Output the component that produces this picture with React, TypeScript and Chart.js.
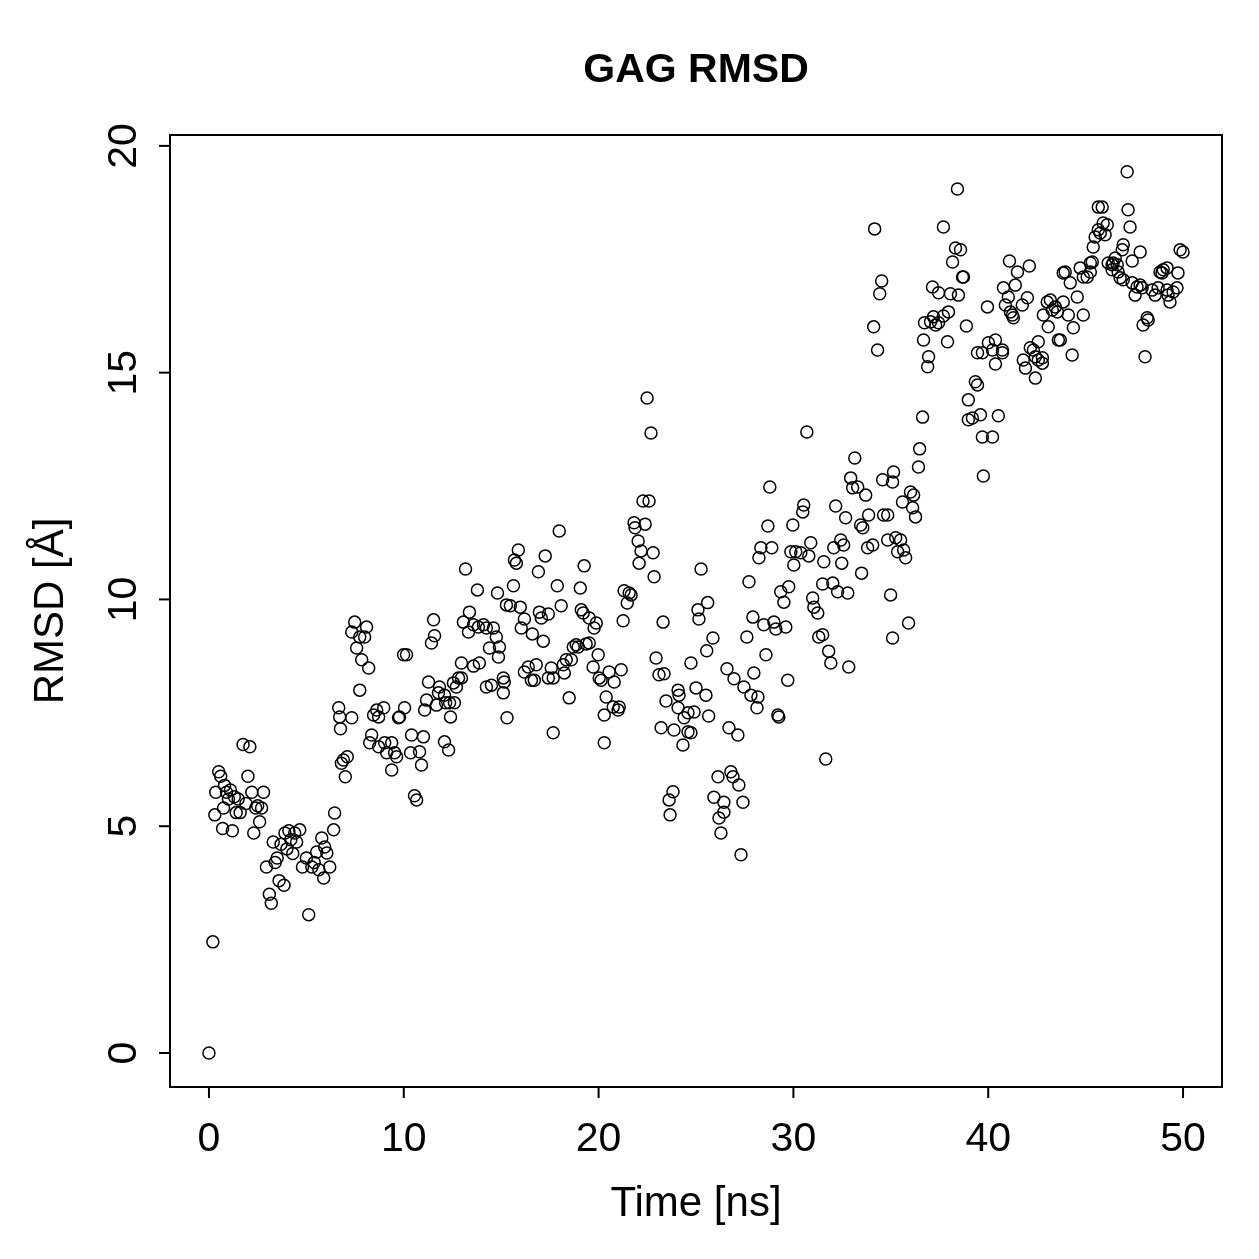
import React, { useEffect, useRef } from "react";
import { Chart, registerables } from "chart.js";

Chart.register(...registerables);

const TITLE = "GAG RMSD";
const X_TITLE = "Time [ns]";
const Y_TITLE = "RMSD [Å]";
const X_TICKS = [0, 10, 20, 30, 40, 50];
const Y_TICKS = [0, 5, 10, 15, 20];

const TIME = [
  0.0,0.2,0.3,0.35,0.5,0.6,0.7,0.75,0.8,0.9,
  1.0,1.1,1.2,1.3,1.4,1.5,1.6,1.75,1.9,2.0,
  2.1,2.2,2.3,2.4,2.5,2.6,2.7,2.8,2.95,3.1,
  3.2,3.3,3.4,3.5,3.6,3.7,3.85,3.9,4.0,4.1,
  4.2,4.3,4.4,4.5,4.66,4.8,5.0,5.12,5.28,5.4,
  5.53,5.64,5.79,5.89,5.94,6.05,6.2,6.4,6.45,6.66,
  6.71,6.75,6.8,6.9,7.0,7.1,7.33,7.33,7.48,7.58,
  7.74,7.74,7.84,7.99,8.09,8.2,8.25,8.35,8.45,8.61,
  8.71,8.71,8.97,9.02,9.12,9.38,9.38,9.53,9.63,9.73,
  9.78,9.99,10.04,10.14,10.35,10.4,10.55,10.66,10.81,10.91,
  11.01,11.07,11.17,11.27,11.42,11.53,11.58,11.68,11.78,11.83,
  12.09,12.09,12.15,12.3,12.35,12.4,12.55,12.6,12.7,12.81,
  12.96,12.96,13.06,13.17,13.32,13.37,13.58,13.58,13.78,13.83,
  13.88,14.09,14.24,14.24,14.4,14.5,14.6,14.75,14.81,14.86,
  14.91,15.11,15.16,15.11,15.27,15.3,15.47,15.63,15.68,15.78,
  15.88,15.98,16.03,16.19,16.19,16.39,16.55,16.6,16.7,16.8,
  16.91,16.96,17.06,17.16,17.26,17.42,17.42,17.57,17.67,17.67,
  17.88,17.98,18.08,18.19,18.24,18.34,18.49,18.6,18.7,18.85,
  18.95,19.06,19.11,19.21,19.26,19.36,19.52,19.52,19.72,19.77,
  19.88,19.98,20.03,20.13,20.29,20.29,20.39,20.54,20.75,20.8,
  21.0,21.06,21.16,21.26,21.31,21.47,21.57,21.67,21.82,21.87,
  22.03,22.08,22.18,22.28,22.39,22.49,22.59,22.69,22.8,22.85,
  22.95,23.1,23.21,23.31,23.36,23.46,23.62,23.67,23.82,23.87,
  24.08,24.08,24.13,24.33,24.39,24.59,24.59,24.74,24.74,24.9,
  25.0,25.1,25.15,25.26,25.6,25.55,25.51,25.65,25.87,25.92,
  26.13,26.18,26.28,26.43,26.43,26.59,26.69,26.79,26.9,26.95,
  27.15,27.2,27.31,27.41,27.46,27.61,27.72,27.82,27.92,27.97,
  28.13,28.18,28.23,28.33,28.48,28.59,28.69,28.79,28.89,29.0,
  29.1,29.2,29.25,29.35,29.51,29.61,29.71,29.76,29.87,29.97,
  30.02,30.12,30.38,30.48,30.53,30.69,30.79,30.89,30.99,31.05,
  31.25,31.3,31.5,31.5,31.56,31.66,31.81,31.92,32.02,32.07,
  32.17,32.27,32.43,32.48,32.58,32.68,32.79,32.84,32.94,33.04,
  33.15,33.3,33.45,33.5,33.56,33.71,33.81,33.86,34.07,34.12,
  34.17,34.32,34.43,34.53,34.58,34.63,34.84,34.84,34.99,35.09,
  35.09,35.14,35.25,35.35,35.5,35.6,35.66,35.76,35.91,36.01,
  36.12,36.17,36.27,36.42,36.48,36.63,36.68,36.73,36.89,36.94,
  37.04,37.14,37.19,37.3,37.45,37.45,37.7,37.7,37.91,37.96,
  38.06,38.17,38.32,38.42,38.47,38.58,38.68,38.73,38.88,38.98,
  38.98,39.19,39.34,39.45,39.45,39.6,39.7,39.7,39.75,39.96,
  40.01,40.22,40.22,40.37,40.37,40.52,40.73,40.73,40.78,40.88,
  41.03,41.09,41.14,41.24,41.29,41.39,41.5,41.75,41.8,41.91,
  42.01,42.11,42.16,42.32,42.42,42.42,42.57,42.57,42.78,42.78,
  42.83,43.03,43.08,43.19,43.29,43.44,43.55,43.6,43.7,43.85,
  43.85,43.95,44.11,44.21,44.31,44.37,44.57,44.72,44.88,44.88,
  45.08,45.24,45.24,45.34,45.39,45.49,45.65,45.65,45.75,45.85,
  45.9,46.0,46.11,46.16,46.36,46.36,46.41,46.52,46.62,46.67,
  46.77,46.88,46.93,46.93,47.13,47.18,47.28,47.39,47.39,47.54,
  47.64,47.8,47.8,47.9,47.95,48.05,48.16,48.21,48.41,48.57,
  48.72,48.82,48.92,48.98,49.18,49.18,49.23,49.33,49.49,49.69,
  49.74,49.85,50.0,
];

const RMSD = [
  0.0,2.45,5.25,5.75,6.2,6.1,4.95,5.4,5.9,5.75,
  5.6,5.8,4.9,5.65,5.3,5.6,5.3,6.8,5.5,6.1,
  6.75,5.75,4.85,5.4,5.45,5.1,5.4,5.75,4.1,3.5,
  3.3,4.65,4.2,4.3,3.8,4.6,3.7,4.85,4.5,4.9,
  4.7,4.4,4.85,4.65,4.92,4.1,4.3,3.05,4.1,4.2,
  4.43,4.04,4.74,3.86,4.54,4.41,4.1,4.92,5.29,7.61,
  7.41,7.15,6.39,6.46,6.09,6.53,7.39,9.28,9.5,8.93,
  9.17,8.0,8.67,9.17,9.39,8.49,6.84,7.01,7.45,7.56,
  7.41,6.75,7.61,6.84,6.62,6.84,6.24,6.62,6.53,7.39,
  7.41,8.78,7.61,8.78,6.62,7.01,5.67,5.58,6.64,6.35,
  6.97,7.56,7.78,8.18,9.04,9.55,9.2,7.67,7.94,8.07,
  7.89,6.86,7.72,6.68,7.72,7.41,8.16,7.72,8.07,8.27,
  8.27,8.6,9.5,10.67,9.28,9.72,9.44,8.53,10.21,9.39,
  8.6,9.44,9.37,8.07,8.93,8.11,9.37,9.17,10.14,8.73,
  8.95,8.27,8.18,7.94,9.88,7.39,9.86,10.3,10.87,10.8,
  11.09,9.83,9.37,9.57,8.4,8.51,8.22,9.24,8.22,8.56,
  10.61,9.72,9.59,9.08,10.96,9.68,8.27,8.49,8.27,7.06,
  10.3,11.51,9.86,8.56,8.38,8.67,7.83,8.67,8.95,9.0,
  8.95,10.25,9.77,9.7,10.74,9.02,9.59,9.04,8.51,9.37,
  9.48,8.78,8.27,8.22,7.45,6.84,7.85,8.4,7.63,8.18,
  7.56,7.63,8.45,9.53,10.19,9.92,10.14,10.1,11.69,11.58,
  11.29,10.8,11.07,12.17,11.66,14.44,12.17,13.67,11.03,10.5,
  8.71,8.34,7.17,9.5,8.36,7.76,5.58,5.25,5.76,7.12,
  8.0,7.61,7.89,6.79,7.39,7.5,7.08,7.06,8.6,7.52,
  8.05,9.77,9.57,10.67,9.93,8.87,7.89,7.43,9.15,5.64,
  6.09,5.18,4.85,5.53,5.31,8.47,7.17,6.2,6.09,8.25,
  7.01,5.91,4.37,5.53,8.07,9.17,10.39,7.89,9.61,8.38,
  7.61,7.85,10.92,11.14,9.44,8.78,11.62,12.48,11.14,9.5,
  9.35,7.45,7.41,10.17,9.94,9.39,8.22,10.28,11.05,11.64,
  10.76,11.05,11.03,11.93,12.08,13.69,10.96,11.25,10.03,9.83,
  9.7,9.17,9.22,10.34,10.83,6.48,8.86,8.6,10.36,11.14,
  12.06,10.17,11.31,10.8,11.2,11.8,10.14,8.51,12.68,12.46,
  13.12,12.48,11.64,10.58,11.58,12.3,11.14,11.86,11.2,16.01,
  18.17,15.5,16.74,17.02,12.64,11.86,11.86,11.31,10.1,9.15,
  12.59,12.81,11.36,11.05,11.31,12.15,11.09,10.92,9.48,12.37,
  12.02,12.3,11.82,12.92,13.32,14.02,15.72,16.1,15.13,15.35,
  16.12,16.89,16.23,16.05,16.1,16.76,16.25,18.21,15.68,16.34,
  16.74,17.44,17.75,19.05,16.71,17.71,17.11,17.11,16.03,14.4,
  13.96,14.0,14.8,14.73,15.44,14.07,13.58,15.44,12.72,16.45,
  15.66,13.58,15.5,15.72,15.19,14.05,15.5,15.44,16.87,16.49,
  16.67,17.46,16.34,16.27,16.21,16.93,17.22,16.49,15.28,15.1,
  16.65,17.35,15.55,15.5,15.35,14.88,15.68,15.28,15.33,15.21,
  16.27,16.56,16.01,16.6,16.38,16.45,16.34,15.72,15.72,17.2,
  16.56,17.22,16.27,16.98,15.39,15.99,16.67,17.31,16.27,17.11,
  17.11,17.42,17.22,17.44,17.77,17.99,18.65,18.15,18.08,18.65,
  18.3,18.04,18.26,17.42,17.38,17.27,17.42,17.53,17.38,17.22,
  17.09,17.71,17.82,17.05,19.43,18.59,18.21,17.46,16.98,16.71,
  16.89,17.66,16.93,16.87,16.05,15.35,16.21,16.16,16.82,16.71,
  16.87,17.22,17.2,17.27,17.31,16.82,16.71,16.56,16.78,16.87,
  17.2,17.71,17.66,
];

const FONT = "'Liberation Sans', Arial, Helvetica, sans-serif";

const rAxesPlugin = {
  id: "rAxes",
  afterDraw(chart: any) {
    const { ctx, chartArea, scales } = chart;
    const xs = scales.x;
    const ys = scales.y;
    const { left, right, top, bottom } = chartArea;
    ctx.save();
    ctx.strokeStyle = "#000";
    ctx.fillStyle = "#000";
    ctx.lineWidth = 2;
    ctx.strokeRect(left, top, right - left, bottom - top);

    ctx.font = `41px ${FONT}`;
    ctx.textAlign = "center";
    ctx.textBaseline = "alphabetic";
    for (const v of X_TICKS) {
      const px = xs.getPixelForValue(v);
      ctx.beginPath();
      ctx.moveTo(px, bottom);
      ctx.lineTo(px, bottom + 11);
      ctx.stroke();
      ctx.fillText(String(v), px, bottom + 64);
    }
    for (const v of Y_TICKS) {
      const py = ys.getPixelForValue(v);
      ctx.beginPath();
      ctx.moveTo(left, py);
      ctx.lineTo(left - 11, py);
      ctx.stroke();
      ctx.save();
      ctx.translate(left - 34, py);
      ctx.rotate(-Math.PI / 2);
      ctx.fillText(String(v), 0, 0);
      ctx.restore();
    }
    // axis titles
    const cx = (left + right) / 2;
    const cy = (top + bottom) / 2;
    ctx.font = `42px ${FONT}`;
    ctx.fillText(X_TITLE, cx, bottom + 129);
    ctx.save();
    ctx.translate(left - 107, cy);
    ctx.rotate(-Math.PI / 2);
    ctx.fillText(Y_TITLE, 0, 0);
    ctx.restore();
    // main title
    ctx.font = `bold 41px ${FONT}`;
    ctx.fillText(TITLE, cx, top - 53);
    ctx.restore();
  },
};

export default function App() {
  const ref = useRef<HTMLCanvasElement | null>(null);
  useEffect(() => {
    if (!ref.current) return;
    const n = Math.min(TIME.length, RMSD.length);
    const points = [];
    for (let i = 0; i < n; i++) points.push({ x: TIME[i], y: RMSD[i] });
    const chart = new Chart(ref.current, {
      type: "scatter",
      data: {
        datasets: [
          {
            data: points,
            pointStyle: "circle",
            pointRadius: 6,
            pointBorderWidth: 1.5,
            pointBorderColor: "#000",
            pointBackgroundColor: "rgba(0,0,0,0)",
          },
        ],
      },
      options: {
        animation: false,
        responsive: false,
        devicePixelRatio: 1,
        layout: { padding: { left: 170, right: 37, top: 135, bottom: 172 } },
        plugins: { legend: { display: false }, tooltip: { enabled: false }, title: { display: false } },
        scales: {
          x: { type: "linear", display: false, min: -2, max: 52 },
          y: { type: "linear", display: false, min: -0.75, max: 20.24 },
        },
      },
      plugins: [rAxesPlugin],
    });
    return () => chart.destroy();
  }, []);
  return (
    <div style={{ position: "absolute", left: 0, top: 0, width: 1259, height: 1259, background: "#fff" }}>
      <canvas ref={ref} width={1259} height={1259} style={{ display: "block" }} />
    </div>
  );
}
